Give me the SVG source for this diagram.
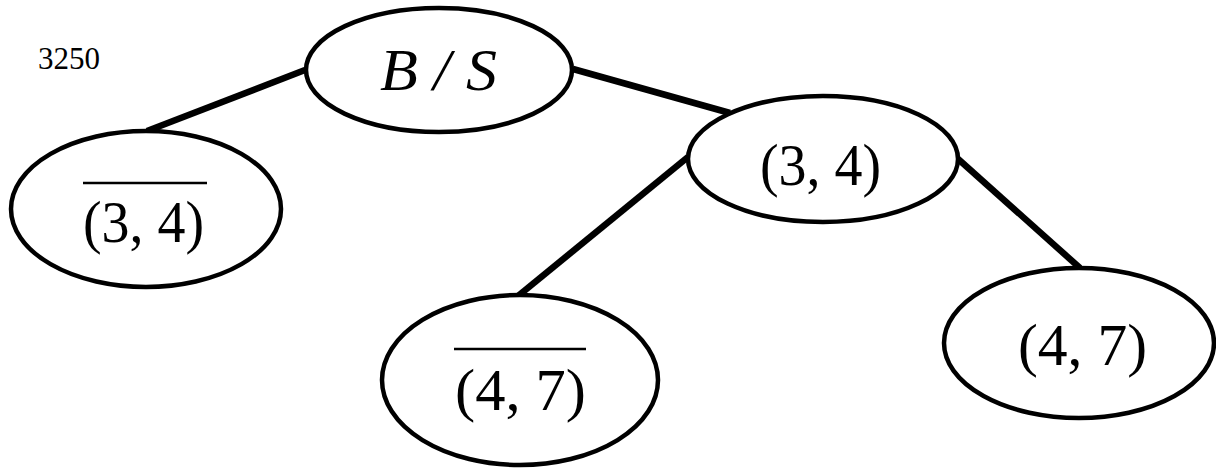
<svg xmlns="http://www.w3.org/2000/svg" width="1216" height="472" viewBox="0 0 1216 472">
<style>
.node ellipse{fill:#fff;stroke:#000;stroke-width:4.5}
.lbl{font-family:"Liberation Serif","Times New Roman",serif;font-size:59px;fill:#000}
.it{font-style:italic}
.bar{stroke:#000;stroke-width:2.5}
#edges line{stroke:#000;stroke-width:6.5;stroke-linecap:butt}
</style>
<rect width="1216" height="472" fill="#fff"/>
<text x="38" y="69" font-family="Liberation Serif, serif" font-size="31" textLength="62" lengthAdjust="spacingAndGlyphs">3250</text>
<g id="edges">
<line x1="305" y1="70" x2="147" y2="131"/>
<line x1="573" y1="69" x2="730" y2="113"/>
<line x1="688" y1="157" x2="518" y2="296"/>
<line x1="957" y1="158" x2="1080" y2="268"/>
</g>
<g id="root" class="node">
<ellipse cx="439" cy="70" rx="133" ry="62"/>
<text class="lbl it" x="380" y="90" font-size="54" textLength="117" lengthAdjust="spacingAndGlyphs">B / S</text>
</g>
<g id="left" class="node">
<ellipse cx="146" cy="209" rx="135" ry="78"/>
<line class="bar" x1="83" y1="183" x2="207" y2="183"/>
<text class="lbl" x="83" y="242" textLength="121" lengthAdjust="spacingAndGlyphs">(3, 4)</text>
</g>
<g id="mid" class="node">
<ellipse cx="823" cy="159" rx="135" ry="63"/>
<text class="lbl" x="760" y="185" textLength="121" lengthAdjust="spacingAndGlyphs">(3, 4)</text>
</g>
<g id="bottom" class="node">
<ellipse cx="520" cy="380" rx="138" ry="85"/>
<line class="bar" x1="454" y1="349" x2="586" y2="349"/>
<text class="lbl" x="455" y="410" textLength="131" lengthAdjust="spacingAndGlyphs">(4, 7)</text>
</g>
<g id="right" class="node">
<ellipse cx="1079" cy="343" rx="135" ry="75"/>
<text class="lbl" x="1018" y="365" textLength="129" lengthAdjust="spacingAndGlyphs">(4, 7)</text>
</g>
</svg>
